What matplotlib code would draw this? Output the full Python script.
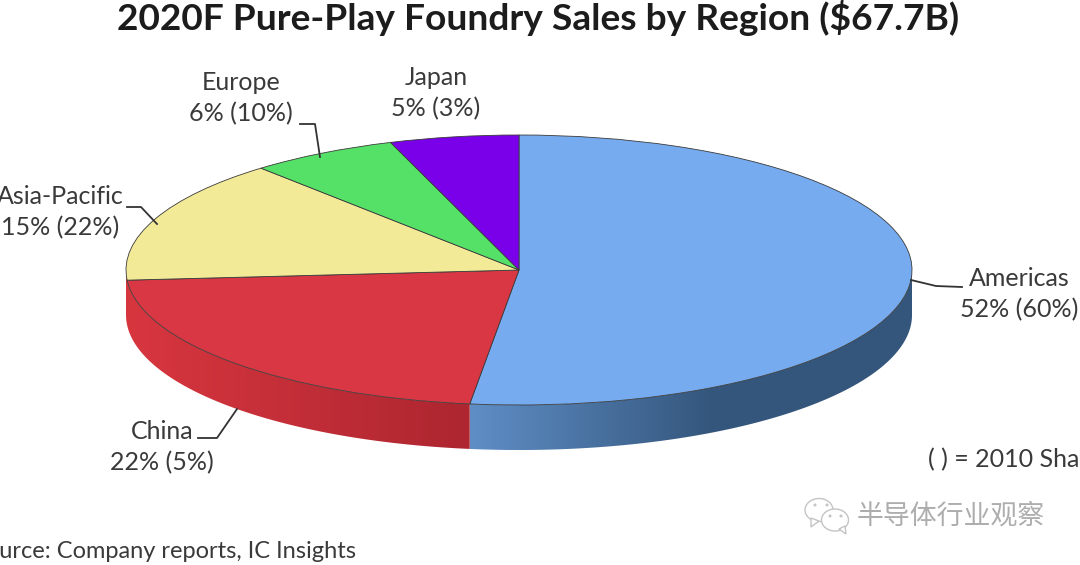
import numpy as np
import matplotlib
matplotlib.use('Agg')
import matplotlib.pyplot as plt
from matplotlib.colors import to_rgb
from matplotlib.patches import Ellipse, Polygon

plt.rcParams['font.family'] = ['Lato', 'Noto Sans CJK SC', 'DejaVu Sans']

regions = ['Americas', 'China', 'Asia-Pacific', 'Europe', 'Japan']
share_2020 = [52, 22, 15, 6, 5]
share_2010 = [60, 5, 22, 10, 3]
# slice sizes as drawn (they round to the labels)
slice_sizes = [52.0, 21.8, 14.8, 6.1, 5.3]
colors = ['#76abef', '#d93743', '#f3ea98', '#55e067', '#7a00ea']

title = '2020F Pure-Play Foundry Sales by Region ($67.7B)'
note = '( ) = 2010 Share'
source = 'Source: Company reports, IC Insights'
watermark = '半导体行业观察'

W, H = 1080, 565
fig = plt.figure(figsize=(W / 100, H / 100), dpi=100, facecolor='white')

# pixel overlay for labels
over = fig.add_axes([0, 0, 1, 1], zorder=3)
over.set_xlim(0, W)
over.set_ylim(H, 0)
over.axis('off')

# pie lives in a stretched axes so the circle becomes the ellipse
left, right, top, bottom = 126, 912, 135, 405
ax = fig.add_axes([left / W, 1 - bottom / H, (right - left) / W, (bottom - top) / H], zorder=2)
ax.pie(slice_sizes, colors=colors, startangle=90, counterclock=False, radius=1,
       wedgeprops={'edgecolor': '#3a3a3a', 'linewidth': 0.6, 'zorder': 2})

depth = 45 / ((bottom - top) / 2)


def side(a0, a1, c0, c1, knee=1.0):
    # rim of a slice, a0/a1 clockwise degrees from 12 o'clock, shaded left to right
    t = np.radians(np.linspace(a0, a1, 200))
    xs, ys = np.sin(t), np.cos(t)
    outline = np.vstack([np.column_stack([xs, ys]),
                         np.column_stack([xs[::-1], ys[::-1] - depth])])
    x0, x1 = xs.min(), xs.max()
    frac = np.linspace(0, 1, 400)
    if xs[0] > xs[-1]:
        frac = frac[::-1]
    frac = np.minimum((1 - frac if xs[0] > xs[-1] else frac) / knee, 1)
    frac = frac[::-1] if xs[0] > xs[-1] else frac
    c0, c1 = np.array(to_rgb(c0)), np.array(to_rgb(c1))
    grad = (c0 + (c1 - c0) * frac[:, None])[None, :, :]
    im = ax.imshow(grad, extent=(x0, x1, -1 - depth, 1), aspect='auto', origin='lower', zorder=0)
    im.set_clip_box(fig.bbox)
    im.set_clip_path(Polygon(outline, transform=ax.transData))


cum = np.cumsum(slice_sizes) / sum(slice_sizes) * 360
side(cum[0], 90, '#5f8ec6', '#34567c', knee=0.55)
side(cum[0], 270, '#ad2630', '#d8363f')

ax.set_aspect('auto')
ax.set_xlim(-1, 1)
ax.set_ylim(-1, 1)

over.text(538, 18, title, ha='center', va='center', fontsize=26.7, fontweight='bold', color='#1c1c1c')

label_pos = [(1019, 294), (162, 447), (60, 212), (241, 98), (436, 93)]
for name, a, b, (x, y) in zip(regions, share_2020, share_2010, label_pos):
    over.text(x, y, f'{name}\n{a}% ({b}%)', ha='center', va='center', fontsize=18,
              color='#3a3a3a', linespacing=1.4)

line_color = '#333333'
over.plot([911, 936, 962], [280, 286, 287], color=line_color, lw=1.3)
over.plot([198, 217, 237], [438, 438, 409], color=line_color, lw=1.3)
over.plot([127, 141, 157], [207, 207, 224], color=line_color, lw=1.3)
over.plot([300, 315, 320], [124, 124, 157], color=line_color, lw=1.3)

over.text(928, 460, note, ha='left', va='center', fontsize=18, color='#3a3a3a')
over.text(356, 552, source, ha='right', va='center', fontsize=17, color='#3a3a3a')

# wechat mark
wm = '#c4c4c4'
over.add_patch(Ellipse((819, 510), 28, 23, facecolor='white', edgecolor=wm, lw=1))
over.add_patch(Polygon([(811, 518), (811, 527), (819, 521)], facecolor='white', edgecolor=wm, lw=1))
over.add_patch(Ellipse((835, 520), 27, 22, facecolor='white', edgecolor=wm, lw=1))
over.add_patch(Polygon([(839, 529), (846, 534), (845, 526)], facecolor='white', edgecolor=wm, lw=1))
for px, py in [(815, 505), (827, 505), (830, 516), (841, 516)]:
    over.add_patch(Ellipse((px, py), 3, 3, facecolor=wm, edgecolor='none'))
over.text(950.5, 516, watermark, ha='center', va='center', fontsize=19.4, color='#adadad')

fig.savefig('out.png', dpi=100)
